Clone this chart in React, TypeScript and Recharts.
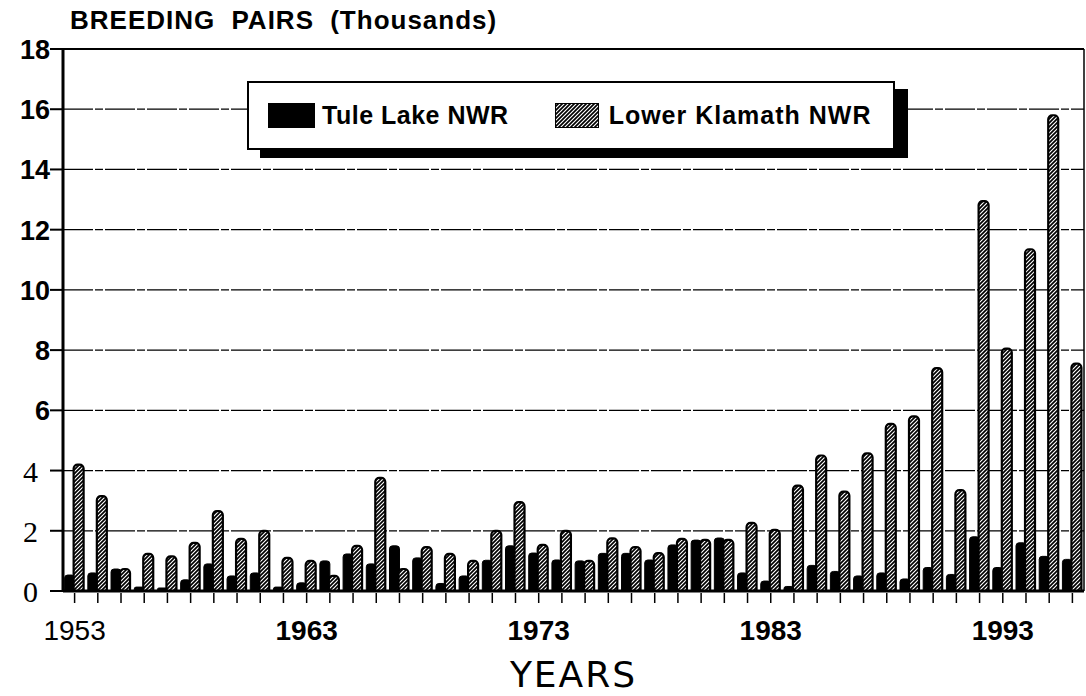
import { BarChart, Bar, XAxis, YAxis, CartesianGrid, Legend, ReferenceLine } from "recharts";

const YEARS = [
  1953, 1954, 1955, 1956, 1957, 1958, 1959, 1960, 1961, 1962, 1963,
  1964, 1965, 1966, 1967, 1968, 1969, 1970, 1971, 1972, 1973, 1974,
  1975, 1976, 1977, 1978, 1979, 1980, 1981, 1982, 1983, 1984, 1985,
  1986, 1987, 1988, 1989, 1990, 1991, 1992, 1993, 1994, 1995, 1996,
];
// breeding pairs, thousands
const TULE = [
  0.53, 0.6, 0.73, 0.13, 0.1, 0.37, 0.9, 0.5, 0.6, 0.13, 0.27,
  1.0, 1.23, 0.9, 1.5, 1.1, 0.25, 0.5, 1.02, 1.5, 1.26, 1.03,
  1.0, 1.25, 1.25, 1.03, 1.53, 1.69, 1.76, 0.6, 0.33, 0.15, 0.85,
  0.65, 0.5, 0.6, 0.4, 0.78, 0.55, 1.8, 0.78, 1.6, 1.15, 1.05,
];
const KLAMATH = [
  4.2, 3.15, 0.73, 1.23, 1.15, 1.6, 2.65, 1.73, 2.0, 1.1, 1.0,
  0.5, 1.5, 3.76, 0.73, 1.46, 1.23, 1.0, 2.0, 2.95, 1.53, 2.0,
  1.0, 1.75, 1.46, 1.26, 1.73, 1.7, 1.7, 2.26, 2.03, 3.5, 4.5,
  3.3, 4.57, 5.55, 5.8, 7.4, 3.35, 12.95, 8.05, 11.35, 15.8, 7.55,
];
const Y_TICKS = [0, 2, 4, 6, 8, 10, 12, 14, 16, 18];
const LABEL_YEARS = [1953, 1963, 1973, 1983, 1993];

const data = YEARS.map((year, i) => ({ year, tule: TULE[i], klamath: KLAMATH[i] }));

const SANS = "'Liberation Sans', Arial, sans-serif";
const SERIF = "'Liberation Serif', 'Times New Roman', serif";

function YearTick({ x, y, payload }: any) {
  const yr = payload.value;
  return (
    <g>
      <line x1={x} x2={x} y1={y + 2} y2={y + 12} stroke="#000" strokeWidth={1.5} />
      {LABEL_YEARS.includes(yr) && (
        <text x={x} y={y + 49} textAnchor="middle" fontFamily={SANS} fontSize={28}
              fontWeight={yr === 1953 ? 400 : 700} fill="#000">{yr}</text>
      )}
    </g>
  );
}

function CountTick({ x, y, payload }: any) {
  const v = payload.value;
  const big = v >= 6;
  return (
    <text x={big ? x : x - 12} y={y} dy={big ? 10 : 11} textAnchor="end"
          fontFamily={big ? SANS : SERIF} fontWeight={big ? 700 : 400}
          fontSize={big ? 27 : 30} fill="#000">{v}</text>
  );
}

function YearsLabel({ viewBox }: any) {
  const cx = viewBox.x + viewBox.width / 2;
  return (
    <text x={cx} y={687} textAnchor="middle" fontFamily="'DejaVu Sans', sans-serif"
          fontSize={36} letterSpacing={2} fill="#000">YEARS</text>
  );
}

function LegendBox() {
  const item = { display: "flex", alignItems: "center" } as const;
  const txt = { fontFamily: SANS, fontWeight: 700, fontSize: 25, color: "#000" } as const;
  return (
    <div style={{
      width: 648, height: 69, boxSizing: "border-box", background: "#fff",
      border: "2px solid #000", boxShadow: "13px 8px 0 0 #000",
      display: "flex", alignItems: "center", paddingLeft: 19,
    }}>
      <div style={item}>
        <div style={{ width: 47, height: 25, background: "#000", marginRight: 7 }} />
        <span style={{ ...txt, letterSpacing: 0.5 }}>Tule Lake NWR</span>
      </div>
      <div style={{ ...item, marginLeft: 46 }}>
        <svg width={44} height={25} style={{ marginRight: 10 }}>
          <rect x={0.5} y={0.5} width={43} height={24} fill="url(#hatch)" stroke="#000" />
        </svg>
        <span style={{ ...txt, letterSpacing: 1 }}>Lower Klamath NWR</span>
      </div>
    </div>
  );
}

export default function App() {
  return (
    <div style={{ position: "absolute", left: 0, top: 0, width: 1086, height: 696, background: "#fff" }}>
      <div style={{
        position: "absolute", left: 70, top: 5, fontFamily: SANS, fontWeight: 700,
        fontSize: 26, letterSpacing: 1, wordSpacing: 8, color: "#000", whiteSpace: "nowrap",
      }}>BREEDING PAIRS (Thousands)</div>
      <BarChart width={1086} height={696} data={data}
                margin={{ top: 49, right: 0, left: 0, bottom: 45 }}
                barCategoryGap="7%" barGap={-1}>
        <defs>
          <pattern id="hatch" patternUnits="userSpaceOnUse" width={4} height={4}>
            <rect width={4} height={4} fill="#fff" />
            <path d="M-1,1 l2,-2 M0,4 l4,-4 M3,5 l2,-2" stroke="#000" strokeWidth={1.7} />
          </pattern>
        </defs>
        <CartesianGrid vertical={false} stroke="#000" strokeWidth={1.2} strokeDasharray="30 2 8 2" />
        <XAxis dataKey="year" interval={0} tickSize={0} tickMargin={0} height={60}
               axisLine={{ stroke: "#000", strokeWidth: 3 }} tickLine={false}
               tick={<YearTick />} label={<YearsLabel />} />
        <YAxis domain={[0, 18]} ticks={Y_TICKS} interval={0} width={63} tickSize={13} tickMargin={0}
               axisLine={{ stroke: "#000", strokeWidth: 3 }} tickLine={{ stroke: "#000", strokeWidth: 2 }}
               tick={<CountTick />} />
        <YAxis yAxisId="r" orientation="right" width={2} domain={[0, 18]} tick={false} tickLine={false}
               axisLine={{ stroke: "#000", strokeWidth: 1.5 }} />
        <ReferenceLine y={18} stroke="#000" strokeWidth={2} />
        <Legend layout="vertical" align="center" verticalAlign="middle" content={<LegendBox />}
                wrapperStyle={{ position: "absolute", left: 247, top: 81, width: 648, height: 69 }} />
        <Bar dataKey="tule" name="Tule Lake NWR" fill="#000" stroke="#000" strokeWidth={1}
             radius={[3, 3, 0, 0]} isAnimationActive={false} />
        <Bar dataKey="klamath" name="Lower Klamath NWR" fill="url(#hatch)" stroke="#000" strokeWidth={2.2}
             radius={[4, 4, 0, 0]} isAnimationActive={false} />
      </BarChart>
    </div>
  );
}
